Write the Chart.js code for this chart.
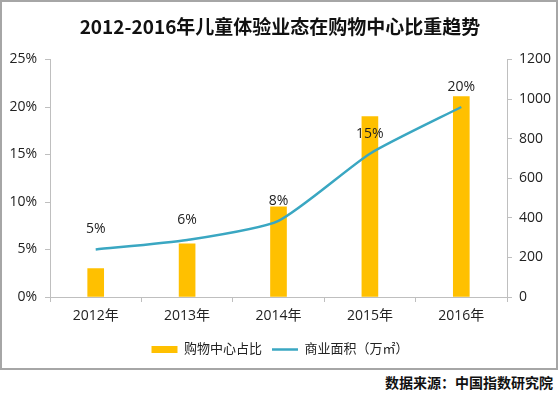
<!DOCTYPE html>
<html>
<head>
<meta charset="utf-8">
<script src="https://cdn.jsdelivr.net/npm/chart.js@4"></script>
<style>
  body { margin: 0; background: #fff; width: 560px; height: 396px; position: relative; overflow: hidden; }
  #frame { position: absolute; left: 0; top: 0; width: 554px; height: 366px; border: 2px solid #a6a6a6; }
  #chart { position: absolute; left: 0; top: 0; }
  #source { position: absolute; right: 7px; top: 372px; font: bold 14px "Noto Sans CJK SC", sans-serif; color: #111; }
</style>
</head>
<body>
<div id="frame"></div>
<canvas id="chart" width="560" height="370"></canvas>
<div id="source">数据来源：中国指数研究院</div>
<script>
// 数据
const years = ["2012年", "2013年", "2014年", "2015年", "2016年"];
const mallShare = [3.0, 5.6, 9.5, 19.0, 21.1];
const commercialArea = [240, 288, 385, 724, 960];
const shareLabels = ["5%", "6%", "8%", "15%", "20%"];

const fontFamily = '"Open Sans", "Noto Sans CJK SC", sans-serif';
const axisColor = "#bfbfbf";

// 折线上方的百分比标签
const lineLabels = {
  id: "lineLabels",
  afterDatasetsDraw(chart) {
    const meta = chart.getDatasetMeta(1);
    const ctx = chart.ctx;
    ctx.save();
    ctx.font = "14px " + fontFamily;
    ctx.fillStyle = "#222";
    ctx.textAlign = "center";
    ctx.textBaseline = "middle";
    meta.data.forEach((pt, i) => ctx.fillText(shareLabels[i], pt.x, pt.y - 20));
    ctx.restore();
  }
};

new Chart(document.getElementById("chart"),
{
  type: "bar",
  data:
  {
    labels: years,
    datasets: [
    {
      label: "购物中心占比",
      data: mallShare,
      backgroundColor: "#FFC000",
      barThickness: 16,
      yAxisID: "y",
      order: 2
    },
    {
      type: "line",
      label: "商业面积（万㎡）",
      data: commercialArea,
      borderColor: "#3AA7C2",
      backgroundColor: "#3AA7C2",
      borderWidth: 2.5,
      pointRadius: 0,
      tension: 0.2,
      yAxisID: "y1",
      order: 1
    }]
  },
  options:
  {
    responsive: false,
    animation: false,
    layout: { padding: { bottom: 4 } },
    plugins:
    {
      title:
      {
        display: true,
        text: "2012-2016年儿童体验业态在购物中心比重趋势",
        color: "#111",
        font: { size: 19, weight: "bold", family: '"Noto Sans CJK SC", sans-serif' },
        padding: { top: 15.6, bottom: 21.1 }
      },
      legend:
      {
        position: "bottom",
        labels:
        {
          usePointStyle: true,
          pointStyleWidth: 26,
          boxHeight: 7,
          padding: 10,
          color: "#222",
          font: { size: 13, family: fontFamily },
          sort: (a, b) => a.datasetIndex - b.datasetIndex,
          generateLabels: chart => chart.data.datasets.map((ds, i) => ({
            text: ds.label,
            fillStyle: ds.backgroundColor,
            strokeStyle: ds.type === "line" ? ds.borderColor : ds.backgroundColor,
            lineWidth: ds.type === "line" ? 2.5 : 0,
            pointStyle: ds.type === "line" ? "line" : "rect",
            fontColor: "#222",
            datasetIndex: i
          }))
        }
      },
      tooltip: { enabled: false }
    },
    scales:
    {
      x:
      {
        grid: { drawOnChartArea: false, tickLength: 5, color: axisColor },
        border: { color: axisColor },
        ticks: { padding: 6, color: "#222", font: { size: 14, family: fontFamily } },
        afterFit: s => { s.height = 36; }
      },
      y:
      {
        position: "left",
        min: 0,
        max: 25,
        grid: { drawOnChartArea: false, tickLength: 5, color: axisColor },
        border: { color: axisColor },
        ticks: { stepSize: 5, padding: 8, color: "#222", font: { size: 14, family: fontFamily }, callback: v => v + "%" },
        afterFit: s => { s.width = 50; }
      },
      y1:
      {
        position: "right",
        min: 0,
        max: 1200,
        grid: { drawOnChartArea: false, tickLength: 5, color: axisColor },
        border: { color: axisColor },
        ticks: { stepSize: 200, padding: 7, color: "#222", font: { size: 14, family: fontFamily }, callback: v => String(v) },
        afterFit: s => { s.width = 53; }
      }
    }
  },
  plugins: [lineLabels]
});
</script>
</body>
</html>
